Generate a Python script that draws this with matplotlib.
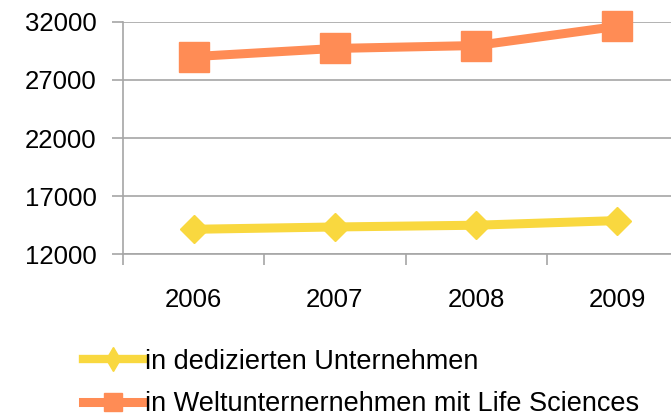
import numpy as np
import matplotlib.pyplot as plt
from matplotlib.lines import Line2D

plt.rcParams['font.family'] = ['Liberation Sans', 'DejaVu Sans']

# Data
jahre = ['2006', '2007', '2008', '2009']
dediziert = [14150, 14350, 14500, 14900]
welt = [29000, 29700, 29950, 31600]
yticks = [12000, 17000, 22000, 27000, 32000]

gelb = '#F9D83F'
orange = '#FF8C55'
grau = '#A6A6A6'

fig = plt.figure(figsize=(6.71, 4.2), dpi=100)
# axes reach past the right edge like in the original
ax = fig.add_axes([123 / 671, 1 - 254.3 / 420, 565 / 671, 232.6 / 420])

x = np.arange(len(jahre))
ax.plot(x, welt, color=orange, lw=6.5, marker='s', ms=21, clip_on=False, zorder=3)
ax.plot(x, dediziert, color=gelb, lw=6.5, marker='D', ms=14, clip_on=False, zorder=3)

ax.set_xlim(-0.5, len(jahre) - 0.5)
ax.set_ylim(12000, 32000)
ax.set_yticks(yticks)
ax.set_yticklabels([str(v) for v in yticks])
ax.yaxis.grid(True, color=grau, lw=1.2)
ax.set_axisbelow(True)

ax.set_xticks(x)
ax.set_xticklabels(jahre)
ax.set_xticks(np.arange(len(jahre) + 1) - 0.5, minor=True)
ax.tick_params(axis='x', which='major', length=0, pad=24, labelsize=18.5)
ax.tick_params(axis='x', which='minor', length=8, width=1.2, color=grau)
ax.tick_params(axis='y', length=8, width=1.2, color=grau, pad=11, labelsize=18.5)

for s in ['top', 'right']:
    ax.spines[s].set_visible(False)
for s in ['left', 'bottom']:
    ax.spines[s].set_color(grau)
    ax.spines[s].set_linewidth(1.2)

handles = [
    Line2D([], [], color=gelb, lw=6, marker='d', ms=12),
    Line2D([], [], color=orange, lw=6.5, marker='s', ms=13),
]
labels = ['in dedizierten Unternehmen', 'in Weltunternernehmen mit Life Sciences']
fig.legend(handles, labels, loc='center left', bbox_to_anchor=(83 / 671, 1 - 383 / 420),
           frameon=False, fontsize=19.5, handlelength=2.2, handletextpad=0.1,
           labelspacing=0.6, borderaxespad=0, borderpad=0)

fig.savefig('out.png', dpi=100)
